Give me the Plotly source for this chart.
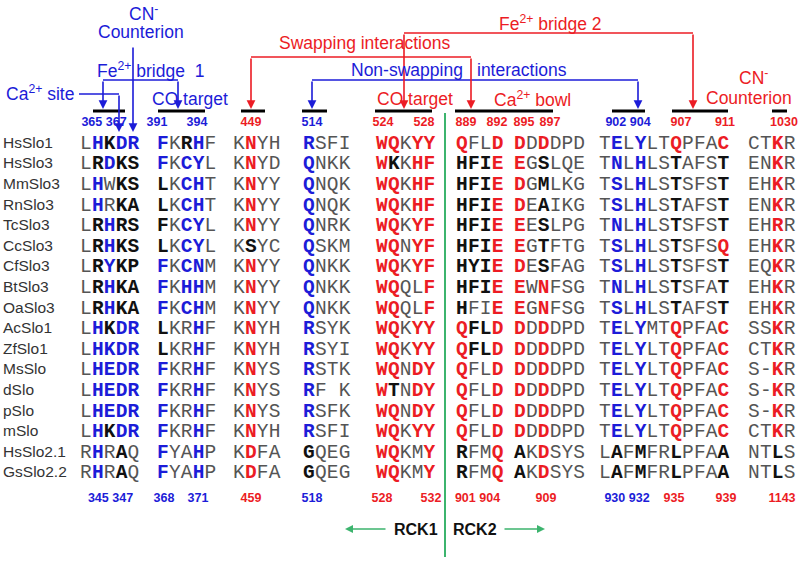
import plotly.graph_objects as go

# ---------------- data ----------------
species = ["HsSlo1", "HsSlo3", "MmSlo3", "RnSlo3", "TcSlo3", "CcSlo3", "CfSlo3",
           "BtSlo3", "OaSlo3", "AcSlo1", "ZfSlo1", "MsSlo", "dSlo", "pSlo", "mSlo",
           "HsSlo2.1", "GsSlo2.2"]

# residues per alignment block, blocks separated by "|"
sequences = [
    "LHKDR|FKRHF|KNYH|RSFI|WQKYY|QFLD|DDDDPD|TELYLTQPFAC|CTKR",
    "LRDKS|FKCYL|KNYD|QNKK|WKKHF|HFIE|EGSLQE|TNLHLSTAFST|ENKR",
    "LHWKS|LKCHT|KNYY|QNQK|WQKHF|HFIE|DGMLKG|TSLHLSTSFST|EHKR",
    "LHRKA|LKCHT|KNYY|QNQK|WQKHF|HFIE|DEAIKG|TSLHLSTAFST|ENKR",
    "LRHRS|FKCYL|KNYY|QNRK|WQKYF|HFIE|EESLPG|TNLHLSTSFST|EHRR",
    "LRHKS|LKCYL|KSYC|QSKM|WQNYF|HFIE|EGTFTG|TSLHLSTSFSQ|EHKR",
    "LRYKP|FKCNM|KNYY|QNKK|WQKYF|HYIE|DESFAG|TSLHLSTSFST|EQKR",
    "LRHKA|FKHHM|KNYY|QNKK|WQQLF|HFIE|EWNFSG|TNLHLSTSFAT|EHKR",
    "LRHKA|FKCHM|KNYY|QNKK|WQQLF|HFIE|EGNFSG|TSLHLSTAFST|EHKR",
    "LHKDR|LKRHF|KNYH|RSYK|WQKYY|QFLD|DDDDPD|TELYMTQPFAC|SSKR",
    "LHKDR|LKRHF|KNYH|RSYI|WQKYY|QFLD|DDDDPD|TELYLTQPFAC|CTKR",
    "LHEDR|FKRHF|KNYS|RSTK|WQNDY|QFLD|DDDDPD|TELYLTQPFAC|S-KR",
    "LHEDR|FKRHF|KNYS|RF K|WTNDY|QFLD|DDDDPD|TELYLTQPFAC|S-KR",
    "LHEDR|FKRHF|KNYS|RSFK|WQNDY|QFLD|DDDDPD|TELYLTQPFAC|S-KR",
    "LHKDR|FKRHF|KNYH|RSFI|WQKYY|QFLD|DDDDPD|TELYLTQPFAC|CTKR",
    "RHRAQ|FYAHP|KDFA|GQEG|WQKMY|RFMQ|AKDSYS|LAFMFRLPFAA|NTLS",
    "RHRAQ|FYAHP|KDFA|GQEG|WQKMY|RFMQ|AKDSYS|LAFMFRLPFAA|NTLS",
]

# residue emphasis: g = plain, b = blue bold, r = red bold, k = black bold
emphasis = [
    "gbkbb|bgkbg|grgg|bggg|rrgrr|rggr|rgrggg|gbgbggrgggr|ggrg",
    "gkbkk|bgbbg|grgg|bggg|rkgrr|kkkr|rgkggg|gbgbggkgggk|ggrg",
    "gbgkk|kgbbg|grgg|bggg|rrgrr|kkkr|rgkggg|gbgbggkgggk|ggrg",
    "gbgkk|kgbbg|grgg|bggg|rrgrr|kkkr|rgkggg|gbgbggkgggk|ggrg",
    "gkbkk|kgbbg|grgg|bggg|rrgrr|kkkr|rgkggg|gbgbggkgggk|ggrg",
    "gkbkk|kgbbg|gkgg|bggg|rrgrr|kkkr|rgkggg|gbgbggkgggr|ggrg",
    "gkbkk|bgbbg|grgg|bggg|rrgrr|kkkr|rgkggg|gbgbggkgggk|ggrg",
    "gkbkk|bgbbg|grgg|bggg|rrggr|kkkr|rgrggg|gbgbggkgggk|ggrg",
    "gkbkk|bgbbg|grgg|bggg|rrggr|kggr|rgrggg|gbgbggkgggk|ggrg",
    "gbkbb|kggbg|grgg|bggg|rrgrr|rkkr|rgrggg|gbgbggrgggr|ggrg",
    "gbbbb|kggbg|grgg|bggg|rrgrr|rkkr|rgrggg|gbgbggrgggr|ggrg",
    "gbbbb|bggbg|grgg|bggg|rrgrr|rggr|rgrggg|gbgbggrgggr|ggrg",
    "gbbbb|bggbg|grgg|bggg|rkgrr|rggr|rgrggg|gbgbggrgggr|ggrg",
    "gbbbb|bggbg|grgg|bggg|rrgrr|rggr|rgrggg|gbgbggrgggr|ggrg",
    "gbkbb|bggbg|grgg|bggg|rrgrr|rggr|rgrggg|gbgbggrgggr|ggrg",
    "gbgkg|bggbg|grgg|kggg|rrggr|kggr|kgrggg|gkgkggkgggk|ggkg",
    "gbgkg|bggbg|grgg|kggg|rrggr|kggr|kgrggg|gkgkggkgggk|ggkg",
]

top_numbers = ["365 367", "391", "394", "449", "514", "524", "528", "889", "892",
               "895", "897", "902 904", "907", "911", "1030"]
top_number_kind = ["b", "b", "b", "r", "b", "r", "r", "r", "r", "r", "r", "b", "r", "r", "r"]
bottom_numbers = ["345 347", "368", "371", "459", "518", "528", "532", "901 904", "909",
                  "930 932", "935", "939", "1143"]
bottom_number_kind = ["b", "b", "b", "r", "b", "r", "r", "r", "r", "b", "r", "r", "r"]

# ---------------- layout / style ----------------
W, H = 800, 562
BLUE = "#1c1cd8"
RED = "#ec1c24"
GRAY = "#555555"
BLACK = "#111111"
GREEN = "#3cb46e"
SEQ_FONT = "Liberation Mono, Courier New, monospace"
SANS = "Liberation Sans, Arial, sans-serif"

block_left = [80, 157, 233, 303, 376, 456, 514, 599, 748]
char_step = 11.85
row_top, row_step = 144, 20.6
top_num_x = [104, 157, 197, 251, 312, 383, 424, 466, 497, 524, 550, 628, 681, 725, 784]
bot_num_x = [110.5, 164, 198, 251, 312, 382, 431, 477.5, 546, 627, 674, 726, 782]

style_map = {
    "g": dict(color=GRAY, weight="normal"),
    "b": dict(color=BLUE, weight="bold"),
    "r": dict(color=RED, weight="bold"),
    "k": dict(color=BLACK, weight="bold"),
}

pts = {k: dict(x=[], y=[], t=[]) for k in style_map}
for i, (seq, emp) in enumerate(zip(sequences, emphasis)):
    y = row_top + i * row_step
    for b, (sblk, eblk) in enumerate(zip(seq.split("|"), emp.split("|"))):
        for j, (ch, st) in enumerate(zip(sblk, eblk)):
            if ch == " ":
                continue
            pts[st]["x"].append(block_left[b] + char_step * (j + 0.5))
            pts[st]["y"].append(y)
            pts[st]["t"].append(ch)

fig = go.Figure()
for k, p in pts.items():
    fig.add_trace(go.Scatter(
        x=p["x"], y=p["y"], text=p["t"], mode="text", textposition="middle center",
        textfont=dict(family=SEQ_FONT, size=19.5, color=style_map[k]["color"],
                      weight=style_map[k]["weight"]),
        hoverinfo="skip", showlegend=False, cliponaxis=False))

# species names
fig.add_trace(go.Scatter(
    x=[3] * len(species), y=[row_top + i * row_step for i in range(len(species))],
    text=species, mode="text", textposition="middle right",
    textfont=dict(family=SANS, size=15.5, color="#333333"),
    hoverinfo="skip", showlegend=False, cliponaxis=False))

# position numbers
def numcol(k):
    return BLUE if k == "b" else RED

fig.add_trace(go.Scatter(
    x=top_num_x, y=[123] * len(top_numbers), text=top_numbers, mode="text",
    textposition="middle center",
    textfont=dict(family=SANS, size=12.5, weight="bold",
                  color=[numcol(k) for k in top_number_kind]),
    hoverinfo="skip", showlegend=False, cliponaxis=False))
fig.add_trace(go.Scatter(
    x=bot_num_x, y=[499] * len(bottom_numbers), text=bottom_numbers, mode="text",
    textposition="middle center",
    textfont=dict(family=SANS, size=12.5, weight="bold",
                  color=[numcol(k) for k in bottom_number_kind]),
    hoverinfo="skip", showlegend=False, cliponaxis=False))

shapes = []
# black bars over regions
for x0, x1 in [(93, 125), (158, 205), (241, 265), (302, 327), (375, 432),
               (455, 553), (612, 645), (672, 728), (772, 787)]:
    shapes.append(dict(type="line", x0=x0, x1=x1, y0=111, y1=111,
                       line=dict(color="black", width=3)))
# RCK1 / RCK2 divider
shapes.append(dict(type="line", x0=445, x1=445, y0=113, y1=557,
                   line=dict(color=GREEN, width=2)))
# brackets
for x0, x1, y, c in [(79, 119, 94, BLUE), (103, 178, 80, BLUE), (312, 638, 80, BLUE),
                     (251, 471, 57, RED), (404, 693, 33, RED)]:
    shapes.append(dict(type="line", x0=x0, x1=x1, y0=y, y1=y,
                       line=dict(color=c, width=1.6)))

annotations = []
def arrow(x, y0, y1, c):
    annotations.append(dict(x=x, y=y1, ax=x, ay=y0,
                            xref="x", yref="y", axref="x", ayref="y", text="",
                            showarrow=True, arrowhead=2, arrowsize=1.1,
                            arrowwidth=1.6, arrowcolor=c, standoff=0))

arrow(119, 94, 132, BLUE)
arrow(133, 46, 132, BLUE)
arrow(103, 80, 109, BLUE)
arrow(178, 80, 109, BLUE)
arrow(312, 80, 109, BLUE)
arrow(638, 80, 109, BLUE)
arrow(251, 57, 109, RED)
arrow(471, 57, 109, RED)
arrow(404, 33, 109, RED)
arrow(693, 33, 109, RED)
# green RCK arrows
annotations.append(dict(x=345, y=529, ax=387, ay=529, xref="x", yref="y", axref="x",
                        ayref="y", text="", showarrow=True, arrowhead=2, arrowsize=1,
                        arrowwidth=1.6, arrowcolor=GREEN, standoff=0))
annotations.append(dict(x=545, y=529, ax=503, ay=529, xref="x", yref="y", axref="x",
                        ayref="y", text="", showarrow=True, arrowhead=2, arrowsize=1,
                        arrowwidth=1.6, arrowcolor=GREEN, standoff=0))

def label(txt, x, y, c, size=17.5, bold=False):
    annotations.append(dict(x=x, y=y, xref="x", yref="y", text=txt, showarrow=False,
                            xanchor="center", yanchor="middle",
                            font=dict(family=SANS, size=size, color=c,
                                      weight="bold" if bold else "normal")))

label("CN<sup>-</sup>", 143, 13, BLUE)
label("Counterion", 141, 32, BLUE)
label("Fe<sup>2+</sup> bridge  1", 150, 70, BLUE)
label("Ca<sup>2+</sup> site", 40, 93, BLUE)
label("CO target", 190, 99, BLUE)
label("Non-swapping", 407, 70, BLUE)
label("interactions", 522, 70, BLUE)
label("Swapping interactions", 364, 43, RED)
label("Fe<sup>2+</sup> bridge 2", 550, 23, RED)
label("CO target", 415, 99, RED)
label("Ca<sup>2+</sup> bowl", 532, 99, RED)
label("CN<sup>-</sup>", 753, 77, RED)
label("Counterion", 749, 98, RED)
label("RCK1", 416, 529, BLACK, size=16, bold=True)
label("RCK2", 475, 529, BLACK, size=16, bold=True)

fig.update_layout(
    width=W, height=H, margin=dict(l=0, r=0, t=0, b=0),
    paper_bgcolor="white", plot_bgcolor="white",
    xaxis=dict(range=[0, W], visible=False, fixedrange=True),
    yaxis=dict(range=[H, 0], visible=False, fixedrange=True),
    shapes=shapes, annotations=annotations, showlegend=False)

fig.write_html("out.html", config={"displayModeBar": False},
               post_script="document.body.style.margin='0px';"
                           "document.body.style.overflow='hidden';")
